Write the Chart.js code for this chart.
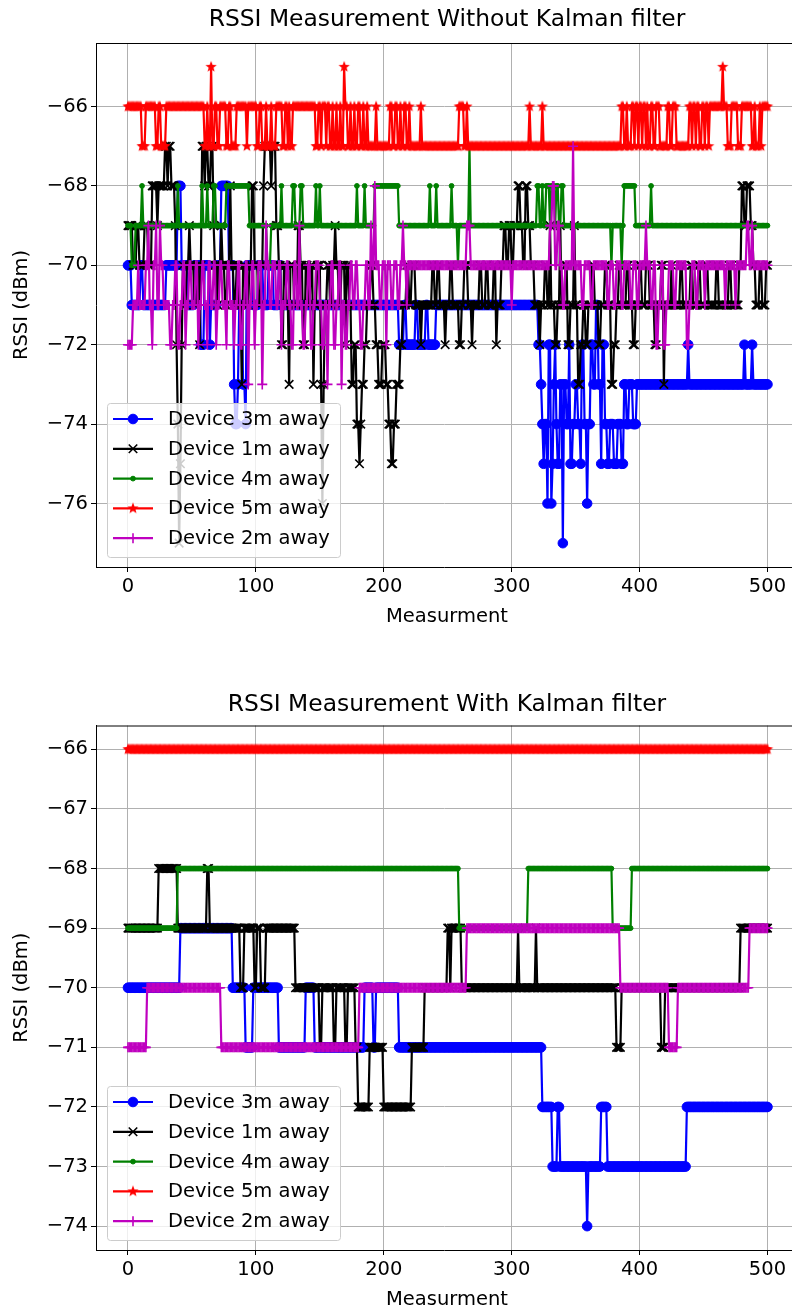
<!DOCTYPE html>
<html>
<head>
<meta charset="utf-8">
<script src="https://cdn.jsdelivr.net/npm/chart.js@4.4.0/dist/chart.umd.min.js"></script>
<style>
  body { margin: 0; background: #fff; overflow: hidden; }
  .box { position: absolute; left: 0; width: 792px; }
</style>
</head>
<body>
<div class="box" style="top:0;height:627px"><canvas id="rawChart" width="792" height="627"></canvas></div>
<div class="box" style="top:627px;height:682px"><canvas id="kalmanChart" width="792" height="682"></canvas></div>
<script>
// --- data ---
// every series is a list of [measurement index, RSSI] change points:
// the value holds until the next change point
const nPoints = 501;
const xTicks = [0, 100, 200, 300, 400, 500];
const rawYTicks = [-76, -74, -72, -70, -68, -66];
const kalmanYTicks = [-74, -73, -72, -71, -70, -69, -68, -67, -66];
const seriesLabels = ['Device 3m away', 'Device 1m away', 'Device 4m away', 'Device 5m away', 'Device 2m away'];

// without Kalman filter
const rawDev3m = [[0,-70],[3,-71],[10,-70],[12,-71],[30,-70],[39,-68],[42,-70],[47,-71],[52,-70],[57,-72],[60,-70],[64,-72],[65,-71],[70,-70],[73,-68],[79,-70],[83,-73],[84,-74],[86,-73],[87,-71],[90,-73],[92,-74],[93,-70],[98,-71],[102,-70],[106,-71],[110,-70],[114,-71],[118,-70],[120,-71],[212,-72],[216,-71],[218,-72],[225,-71],[227,-72],[233,-71],[235,-72],[241,-71],[321,-72],[323,-73],[324,-74],[325,-75],[326,-74],[328,-76],[329,-72],[331,-76],[332,-75],[333,-73],[334,-72],[335,-74],[336,-75],[338,-73],[340,-77],[341,-73],[343,-74],[345,-72],[346,-75],[348,-74],[350,-73],[352,-74],[354,-75],[355,-72],[357,-74],[359,-76],[360,-74],[362,-72],[364,-73],[366,-71],[368,-73],[370,-75],[371,-72],[373,-74],[375,-75],[377,-74],[380,-75],[383,-74],[386,-75],[388,-73],[390,-74],[392,-73],[395,-74],[398,-73],[438,-72],[439,-73],[482,-72],[483,-73],[488,-72],[489,-73]];
const rawDev1m = [[0,-69],[4,-70],[7,-69],[9,-70],[13,-69],[16,-70],[19,-68],[23,-69],[24,-68],[29,-67],[31,-68],[32,-67],[34,-68],[37,-69],[38,-72],[39,-74],[40,-77],[41,-75],[42,-72],[43,-70],[44,-71],[46,-70],[48,-69],[49,-70],[52,-71],[54,-70],[56,-72],[57,-70],[58,-67],[60,-68],[61,-67],[63,-68],[65,-67],[67,-69],[68,-70],[70,-71],[71,-70],[73,-69],[74,-70],[76,-71],[78,-70],[80,-68],[81,-70],[83,-71],[85,-70],[87,-71],[89,-73],[90,-70],[92,-71],[95,-70],[97,-68],[99,-70],[102,-71],[104,-70],[106,-68],[107,-67],[112,-68],[113,-67],[116,-69],[118,-70],[120,-72],[122,-70],[124,-71],[126,-73],[127,-70],[130,-71],[133,-69],[135,-70],[137,-72],[139,-70],[141,-71],[143,-70],[145,-73],[146,-71],[148,-70],[151,-73],[152,-76],[153,-73],[154,-71],[156,-70],[158,-71],[160,-70],[162,-69],[163,-70],[165,-71],[167,-70],[170,-72],[171,-70],[173,-71],[175,-73],[177,-72],[179,-74],[181,-75],[182,-74],[183,-73],[185,-72],[187,-71],[190,-70],[192,-71],[194,-72],[196,-73],[199,-72],[202,-73],[204,-74],[206,-75],[208,-74],[210,-73],[213,-72],[215,-71],[218,-70],[220,-71],[222,-70],[225,-71],[229,-72],[230,-71],[238,-70],[240,-71],[242,-70],[244,-71],[248,-72],[249,-71],[252,-70],[254,-71],[259,-72],[261,-71],[263,-70],[266,-71],[269,-72],[270,-71],[275,-70],[277,-71],[280,-70],[282,-71],[286,-70],[288,-72],[289,-71],[292,-70],[294,-69],[296,-70],[298,-69],[300,-70],[302,-69],[305,-68],[307,-69],[309,-70],[311,-68],[313,-69],[315,-70],[318,-71],[322,-72],[323,-71],[326,-70],[328,-71],[330,-69],[331,-71],[334,-72],[336,-71],[338,-69],[339,-71],[342,-70],[344,-72],[346,-71],[349,-69],[350,-71],[352,-73],[354,-72],[356,-71],[358,-72],[360,-71],[363,-70],[365,-71],[368,-72],[370,-71],[373,-70],[375,-71],[378,-73],[380,-72],[382,-71],[384,-70],[386,-71],[390,-70],[392,-71],[395,-72],[397,-71],[400,-70],[402,-71],[405,-70],[408,-71],[412,-72],[414,-71],[417,-70],[419,-73],[420,-71],[425,-70],[426,-71],[432,-70],[434,-71],[440,-70],[442,-71],[446,-70],[448,-71],[452,-70],[454,-71],[460,-70],[462,-71],[470,-70],[472,-71],[478,-70],[480,-68],[482,-69],[484,-68],[487,-69],[489,-70],[491,-71],[494,-70],[496,-71],[499,-70]];
const rawDev4m = [[0,-69],[3,-70],[6,-69],[11,-68],[12,-69],[39,-68],[40,-69],[58,-68],[59,-69],[62,-68],[63,-69],[67,-68],[69,-69],[77,-68],[95,-69],[109,-70],[112,-69],[120,-68],[121,-69],[129,-68],[131,-69],[135,-68],[137,-69],[147,-68],[148,-69],[150,-68],[151,-69],[179,-68],[180,-69],[185,-68],[186,-69],[193,-68],[212,-69],[236,-68],[237,-69],[241,-68],[242,-69],[253,-68],[254,-69],[258,-70],[259,-69],[267,-67],[268,-69],[320,-68],[322,-69],[324,-68],[325,-69],[327,-68],[330,-69],[331,-68],[334,-69],[335,-68],[337,-69],[339,-68],[341,-69],[378,-70],[379,-69],[386,-70],[387,-69],[388,-68],[397,-69],[409,-68],[410,-69]];
const rawDev5m = [[0,-66],[11,-67],[14,-66],[22,-67],[24,-66],[26,-67],[30,-66],[60,-67],[62,-66],[63,-67],[65,-65],[66,-67],[68,-66],[70,-67],[72,-66],[77,-67],[79,-66],[81,-67],[85,-66],[93,-67],[94,-66],[101,-67],[103,-66],[105,-67],[108,-66],[109,-67],[112,-66],[113,-67],[116,-66],[121,-67],[123,-66],[125,-67],[126,-66],[127,-67],[129,-66],[147,-67],[149,-66],[151,-67],[152,-66],[155,-67],[156,-66],[158,-67],[160,-66],[161,-67],[163,-66],[164,-67],[166,-66],[167,-67],[169,-65],[170,-66],[172,-67],[174,-66],[175,-67],[177,-66],[178,-67],[180,-66],[182,-67],[184,-66],[185,-67],[187,-66],[188,-67],[194,-66],[195,-67],[205,-66],[207,-67],[209,-66],[211,-67],[213,-66],[214,-67],[216,-66],[218,-67],[220,-66],[221,-67],[229,-66],[230,-67],[259,-66],[263,-67],[265,-66],[266,-67],[314,-66],[315,-67],[324,-66],[325,-67],[386,-66],[388,-67],[390,-66],[391,-67],[394,-66],[396,-67],[397,-66],[399,-67],[400,-66],[402,-67],[403,-66],[405,-67],[406,-66],[407,-67],[409,-66],[411,-67],[413,-66],[416,-67],[422,-66],[424,-67],[426,-66],[429,-67],[439,-66],[441,-67],[442,-66],[444,-67],[445,-66],[447,-67],[449,-66],[451,-67],[452,-66],[454,-67],[455,-66],[465,-65],[466,-66],[469,-67],[472,-66],[477,-67],[480,-66],[488,-67],[490,-66],[491,-67],[494,-66],[495,-67],[496,-66]];
const rawDev2m = [[0,-72],[4,-71],[8,-70],[9,-71],[14,-70],[16,-69],[17,-71],[19,-72],[20,-70],[22,-69],[23,-71],[25,-69],[26,-70],[28,-71],[33,-72],[35,-71],[37,-70],[39,-72],[41,-71],[43,-70],[45,-72],[46,-71],[48,-70],[50,-71],[53,-70],[55,-72],[56,-71],[58,-70],[60,-71],[62,-72],[63,-70],[65,-71],[67,-70],[69,-72],[70,-71],[72,-70],[74,-71],[77,-72],[78,-70],[80,-71],[83,-72],[84,-71],[86,-70],[88,-72],[90,-71],[92,-70],[94,-73],[95,-71],[97,-70],[99,-72],[100,-71],[102,-70],[105,-73],[106,-71],[108,-69],[109,-70],[111,-71],[113,-70],[116,-71],[118,-70],[120,-72],[121,-71],[124,-70],[126,-71],[128,-72],[130,-70],[132,-71],[134,-69],[135,-71],[137,-72],[139,-71],[141,-70],[143,-72],[145,-71],[147,-70],[150,-71],[152,-72],[154,-71],[156,-73],[157,-71],[159,-70],[161,-72],[163,-71],[165,-70],[167,-73],[168,-71],[170,-72],[172,-71],[174,-70],[176,-71],[178,-70],[180,-71],[182,-72],[184,-71],[186,-70],[188,-71],[190,-69],[191,-70],[193,-68],[194,-70],[197,-71],[199,-70],[202,-72],[203,-70],[206,-71],[208,-70],[211,-71],[213,-70],[215,-69],[216,-70],[218,-71],[219,-70],[265,-69],[268,-70],[300,-71],[301,-70],[330,-69],[332,-68],[334,-70],[336,-69],[338,-70],[340,-71],[342,-70],[348,-67],[349,-70],[355,-71],[357,-70],[362,-71],[364,-70],[375,-71],[377,-70],[380,-71],[382,-70],[386,-71],[388,-70],[393,-71],[395,-70],[398,-71],[400,-70],[405,-69],[406,-70],[409,-71],[411,-70],[413,-72],[415,-71],[417,-70],[419,-72],[421,-71],[423,-70],[427,-71],[429,-70],[437,-72],[439,-71],[441,-70],[444,-71],[446,-70],[451,-71],[452,-70],[467,-71],[468,-70],[475,-71],[476,-70],[484,-69],[486,-70],[488,-69],[489,-70]];

// with Kalman filter
const kalDev3m = [[0,-70],[41,-69],[82,-70],[92,-71],[98,-70],[118,-71],[139,-70],[146,-71],[185,-70],[192,-71],[194,-70],[212,-71],[324,-72],[332,-73],[336,-72],[338,-73],[359,-74],[360,-73],[370,-72],[375,-73],[437,-72]];
const kalDev1m = [[0,-69],[24,-68],[39,-69],[62,-68],[64,-69],[88,-70],[91,-69],[99,-70],[101,-69],[104,-70],[108,-69],[131,-70],[150,-71],[152,-70],[161,-71],[163,-70],[170,-71],[172,-70],[178,-71],[180,-72],[189,-71],[200,-72],[222,-71],[232,-70],[250,-69],[252,-70],[253,-69],[261,-70],[305,-69],[306,-70],[319,-69],[320,-70],[382,-71],[386,-70],[417,-71],[420,-70],[479,-69]];
const kalDev4m = [[0,-69],[39,-68],[259,-69],[313,-68],[379,-69],[394,-68]];
const kalDev5m = [[0,-66]];
const kalDev2m = [[0,-71],[15,-70],[73,-71],[181,-70],[265,-69],[385,-70],[423,-71],[430,-70],[486,-69]];

// --- helpers ---
function expand(runs) {
  const out = [];
  for (let k = 0; k < runs.length; k++) {
    const end = k + 1 < runs.length ? runs[k + 1][0] : nPoints;
    for (let i = runs[k][0]; i < end; i++) out.push({ x: i, y: runs[k][1] });
  }
  return out;
}

// filled star like matplotlib '*'
function starImage(r, color) {
  const c = document.createElement('canvas');
  c.width = c.height = r * 2 + 2;
  const g = c.getContext('2d');
  g.fillStyle = color;
  g.beginPath();
  for (let k = 0; k < 10; k++) {
    const rad = k % 2 === 0 ? r : r * 0.42;
    const a = -Math.PI / 2 + k * Math.PI / 5;
    const px = r + 1 + rad * Math.cos(a), py = r + 1 + rad * Math.sin(a);
    k === 0 ? g.moveTo(px, py) : g.lineTo(px, py);
  }
  g.closePath();
  g.fill();
  return c;
}

const styles = [
  { color: '#0000ff', pointStyle: 'circle', radius: 4.8, bw: 1 },
  { color: '#000000', pointStyle: 'crossRot', radius: 6, bw: 1.6 },
  { color: '#008000', pointStyle: 'circle', radius: 2.4, bw: 1 },
  { color: '#ff0000', pointStyle: starImage(6, '#ff0000'), radius: 6, bw: 1 },
  { color: '#bf00bf', pointStyle: 'cross', radius: 5, bw: 1.6 }
];

function makeDatasets(series) {
  return series.map((runs, k) => ({
    label: seriesLabels[k],
    data: expand(runs),
    borderColor: styles[k].color,
    backgroundColor: styles[k].color,
    borderWidth: 2.2,
    pointStyle: styles[k].pointStyle,
    pointRadius: styles[k].radius,
    pointBorderWidth: styles[k].bw,
    pointHoverRadius: styles[k].radius,
    order: 5 - k   // later series drawn on top, like matplotlib
  }));
}

const FONT = 'DejaVu Sans, sans-serif';
const FS = 19.5;

// titles, y label, x label, top spine and the in-plot legend
const decorPlugin = {
  id: 'decor',
  afterDraw(chart, args, opts) {
    const ctx = chart.ctx;
    const a = chart.chartArea;
    ctx.save();
    // top spine
    ctx.strokeStyle = '#000';
    ctx.lineWidth = 1;
    ctx.beginPath();
    ctx.moveTo(a.left, a.top + 0.5);
    ctx.lineTo(a.right, a.top + 0.5);
    ctx.stroke();

    ctx.fillStyle = '#000';
    ctx.textAlign = 'center';
    ctx.textBaseline = 'middle';
    ctx.font = '23.4px ' + FONT;
    ctx.fillText(opts.title, 447, opts.titleY);
    ctx.font = FS + 'px ' + FONT;
    ctx.fillText('Measurment', 447, a.bottom + 50);
    ctx.save();
    ctx.translate(22, (a.top + a.bottom) / 2);
    ctx.rotate(-Math.PI / 2);
    ctx.fillText('RSSI (dBm)', 0, 0);
    ctx.restore();

    // legend box, lower left
    const rowH = 29.8;
    const lx = 107, ly = a.bottom - 164, lw = 233, lh = 154;
    ctx.fillStyle = 'rgba(255,255,255,0.8)';
    ctx.strokeStyle = '#cccccc';
    ctx.lineWidth = 1;
    ctx.beginPath();
    ctx.roundRect(lx + 0.5, ly + 0.5, lw, lh, 3);
    ctx.fill();
    ctx.stroke();
    ctx.textAlign = 'left';
    ctx.font = FS + 'px ' + FONT;
    chart.data.datasets.forEach((ds, k) => {
      const y = ly + 16 + k * rowH;
      ctx.strokeStyle = ds.borderColor;
      ctx.lineWidth = 2.2;
      ctx.beginPath();
      ctx.moveTo(113, y);
      ctx.lineTo(153, y);
      ctx.stroke();
      ctx.fillStyle = ds.backgroundColor;
      ctx.lineWidth = ds.pointBorderWidth;
      Chart.helpers.drawPoint(ctx, {
        pointStyle: ds.pointStyle, radius: ds.pointRadius,
        borderWidth: ds.pointBorderWidth, rotation: 0
      }, 133, y);
      ctx.fillStyle = '#000';
      ctx.fillText(ds.label, 168, y + 1);
    });
    ctx.restore();
  }
};

function makeChart(id, series, yTicks, yMin, yMax, padTop, xAxisH, title, titleY) {
  return new Chart(document.getElementById(id), {
    type: 'line',
    data: { datasets: makeDatasets(series) },
    options: {
      responsive: false,
      animation: false,
      events: [],
      layout: { autoPadding: false, padding: { top: padTop, left: 0, right: 0, bottom: 0 } },
      plugins: {
        legend: { display: false },
        tooltip: { enabled: false },
        decor: { title: title, titleY: titleY }
      },
      scales: {
        x: {
          type: 'linear',
          min: -25, max: -25 + (792 - 96) / 1.279,
          afterBuildTicks: s => { s.ticks = xTicks.map(v => ({ value: v })); },
          afterFit: s => { s.height = xAxisH; s.paddingLeft = 0; s.paddingRight = 0; },
          grid: { color: '#b0b0b0', lineWidth: 1, tickColor: '#000', tickLength: 5 },
          border: { color: '#000', width: 1 },
          ticks: { color: '#000', font: { family: FONT, size: FS }, padding: 3, maxRotation: 0 }
        },
        y: {
          type: 'linear',
          min: yMin, max: yMax,
          afterBuildTicks: s => { s.ticks = yTicks.map(v => ({ value: v })); },
          afterFit: s => { s.width = 96; },
          grid: { color: '#b0b0b0', lineWidth: 1, tickColor: '#000', tickLength: 5 },
          border: { color: '#000', width: 1 },
          ticks: {
            color: '#000', font: { family: FONT, size: FS }, padding: 3,
            callback: v => String(v).replace('-', '\u2212')
          }
        }
      }
    },
    plugins: [decorPlugin]
  });
}

makeChart('rawChart', [rawDev3m, rawDev1m, rawDev4m, rawDev5m, rawDev2m],
  rawYTicks, -77.6, -64.4, 43, 60, 'RSSI Measurement Without Kalman filter', 20);
makeChart('kalmanChart', [kalDev3m, kalDev1m, kalDev4m, kalDev5m, kalDev2m],
  kalmanYTicks, -74.4, -65.6, 98.5, 59, 'RSSI Measurement With Kalman filter', 78);
</script>
</body>
</html>
